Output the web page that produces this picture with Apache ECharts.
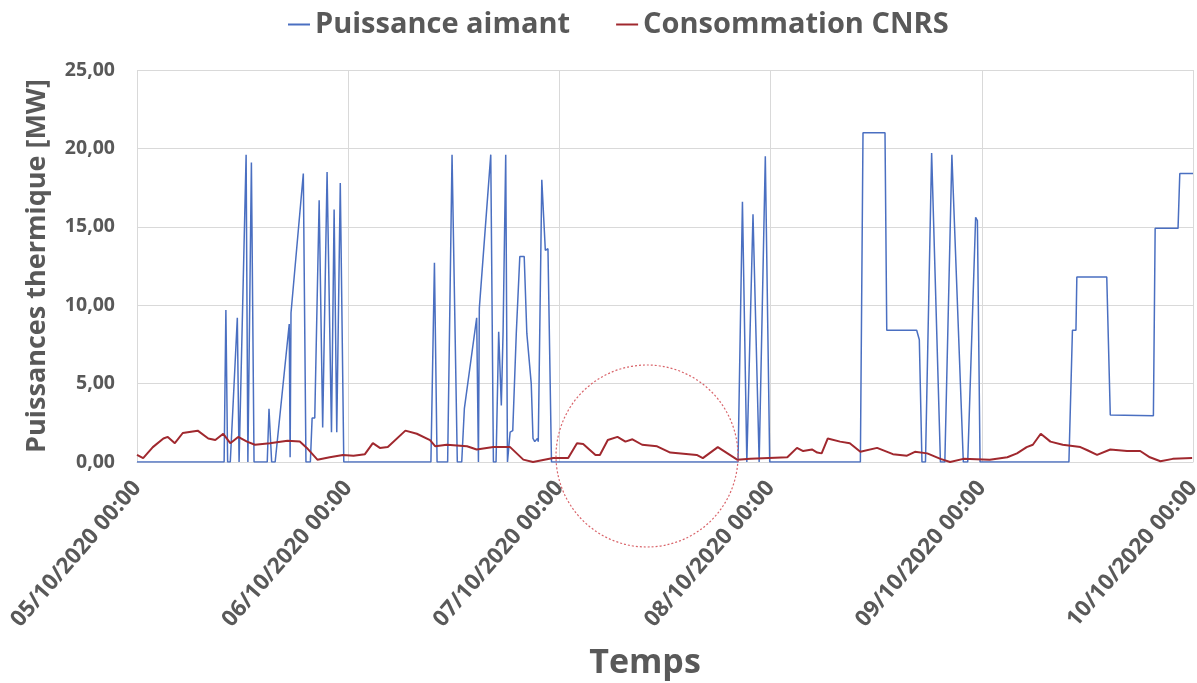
<!DOCTYPE html>
<html>
<head>
<meta charset="utf-8">
<script src="https://cdn.jsdelivr.net/npm/echarts@6/dist/echarts.min.js"></script>
<style>
  html, body { margin: 0; padding: 0; background: #fff; }
  #chart { width: 1197px; height: 683px; }
</style>
</head>
<body>
<div id="chart"></div>
<script>
// heures depuis le 05/10/2020 00:00
const dayLabels = ['05/10/2020 00:00', '06/10/2020 00:00', '07/10/2020 00:00',
    '08/10/2020 00:00', '09/10/2020 00:00', '10/10/2020 00:00'];

const aimantHours = [0, 9.9, 10.1, 10.3, 10.6, 11.4, 11.6, 12.4, 12.6, 13.0, 13.3,
    14.8, 15.0, 15.3, 15.7, 17.3, 17.4, 17.5, 18.9, 19.2, 19.7, 19.9, 20.2, 20.7,
    21.1, 21.6, 22.1, 22.4, 22.7, 23.1, 23.5,
    33.4, 33.8, 34.1, 35.3, 35.8, 35.9, 36.4, 36.9, 37.2, 38.6, 38.8, 38.9, 40.2,
    40.5, 40.8, 41.1, 41.4, 41.6, 41.9, 42.1, 42.4, 42.7, 43.1, 43.5, 44.0, 44.3,
    44.8, 45.0, 45.2, 45.5, 45.6, 46.0, 46.4, 46.7, 47.1,
    68.3, 68.8, 69.3, 70.0, 70.1, 70.7, 71.4, 71.9,
    82.2, 82.5, 85.0, 85.2, 88.6, 88.9, 89.2, 89.6, 90.3, 91.3, 91.8, 92.6, 93.9,
    94.4, 95.3, 95.5, 95.8,
    105.9, 106.3, 106.7, 106.8, 110.2, 110.6, 115.5, 115.7, 118.3, 118.5, 120];
const aimantValues = [0, 0, 9.7, 0, 0, 9.2, 0, 19.6, 0, 19.1, 0,
    0, 3.4, 0, 0, 8.8, 0.3, 9.5, 18.4, 0, 0, 2.8, 2.8, 16.7,
    2.2, 18.5, 1.9, 16.1, 1.9, 17.8, 0,
    0, 12.7, 0, 0, 19.6, 19.5, 0, 0, 3.4, 9.2, 0, 9.8, 19.6,
    0, 0, 8.3, 3.6, 8.3, 19.6, 0, 1.9, 2.0, 8.2, 13.1, 13.1, 8.2,
    5.0, 1.5, 1.3, 1.5, 1.3, 18.0, 13.5, 13.6, 0,
    0, 16.6, 0, 15.8, 15.7, 0, 19.5, 0,
    0, 21.0, 21.0, 8.4, 8.4, 7.8, 0, 0, 19.7, 0, 0, 19.6, 0,
    0, 15.6, 15.4, 0,
    0, 8.4, 8.4, 11.8, 11.8, 3.0, 2.95, 14.9, 14.9, 18.4, 18.4];

const cnrsHours = [0, 0.7, 1.8, 3.0, 3.5, 4.3, 5.2, 6.9, 8.1, 8.9, 9.8, 10.6, 11.5,
    12.5, 13.4, 15.1, 17.1, 18.5, 19.3, 20.5, 21.9, 23.4, 24.6, 25.9, 26.8, 27.6,
    28.5, 30.5, 31.8, 33.3, 33.9, 35.2, 37.5, 38.6, 40.5, 42.4, 43.9, 45.0, 47.3,
    49.0, 50.0, 50.7, 52.1, 52.6, 53.5, 54.6, 55.5, 56.3, 57.4, 59.1, 60.6, 63.6,
    64.3, 66.0, 67.1, 68.2, 69.7, 73.9, 75.0, 75.7, 76.7, 77.3, 77.8, 78.5, 79.9,
    81.0, 82.2, 84.1, 85.9, 87.5, 88.4, 89.8, 91.3, 92.4, 93.9, 96.9, 98.9, 100.0,
    101.1, 101.8, 102.7, 103.8, 105.2, 107.2, 108.0, 109.1, 110.6, 112.5, 114.0,
    115.1, 116.3, 117.7, 119.9];
const cnrsValues = [0.45, 0.25, 0.95, 1.5, 1.6, 1.2, 1.85, 2.0, 1.5, 1.4, 1.8, 1.2, 1.6,
    1.3, 1.1, 1.2, 1.35, 1.3, 0.9, 0.15, 0.3, 0.45, 0.4, 0.5, 1.2, 0.9,
    0.95, 2.0, 1.8, 1.4, 1.0, 1.1, 1.0, 0.8, 0.95, 0.95, 0.15, 0.0, 0.25,
    0.25, 1.2, 1.15, 0.45, 0.45, 1.4, 1.6, 1.3, 1.45, 1.1, 1.0, 0.6, 0.45,
    0.25, 0.95, 0.55, 0.15, 0.2, 0.3, 0.9, 0.7, 0.8, 0.6, 0.55, 1.5, 1.3,
    1.2, 0.65, 0.9, 0.5, 0.4, 0.65, 0.55, 0.2, 0.0, 0.2, 0.15, 0.3, 0.55,
    0.95, 1.1, 1.8, 1.3, 1.1, 0.95, 0.75, 0.45, 0.8, 0.7, 0.7,
    0.3, 0.05, 0.2, 0.25];

const chart = echarts.init(document.getElementById('chart'));
const textGrey = '#595959';
const font = '"Open Sans", sans-serif';

const option = {
    backgroundColor: '#ffffff',
    animation: false,
    textStyle: { fontFamily: font },
    legend: {
        top: 5,
        left: 283,
        itemGap: 46,
        itemWidth: 22,
        itemHeight: 2,
        icon: 'rect',
        textStyle: { fontSize: 29, fontWeight: 'bold', color: textGrey, fontFamily: font },
        data: ['Puissance aimant', 'Consommation CNRS']
    },
    grid: { left: 137, right: 4, top: 70, bottom: 221, outerBoundsMode: 'none' },
    xAxis: {
        type: 'value',
        min: 0,
        max: 120,
        interval: 24,
        name: 'Temps',
        nameLocation: 'middle',
        nameGap: 184,
        nameTextStyle: {
            fontSize: 34, fontWeight: 'bold', color: textGrey, fontFamily: font,
            padding: [0, 40, 0, 0]
        },
        axisLine: { show: true, lineStyle: { color: '#d9d9d9' } },
        axisTick: { show: false },
        splitLine: { show: true, lineStyle: { color: '#d9d9d9' } },
        axisLabel: {
            rotate: 49,
            margin: 22,
            fontSize: 22.5,
            fontWeight: 'bold',
            color: textGrey,
            fontFamily: font,
            formatter: v => dayLabels[Math.round(v / 24)]
        }
    },
    yAxis: {
        type: 'value',
        min: 0,
        max: 25,
        interval: 5,
        name: 'Puissances thermique [MW]',
        nameLocation: 'middle',
        nameGap: 86,
        nameTextStyle: { fontSize: 27, fontWeight: 'bold', color: textGrey, fontFamily: font },
        axisLine: { show: false },
        axisTick: { show: false },
        splitLine: { lineStyle: { color: '#d9d9d9' } },
        axisLabel: {
            margin: 22,
            fontSize: 19.5,
            fontWeight: 'bold',
            color: textGrey,
            fontFamily: font,
            formatter: v => v.toFixed(2).replace('.', ',')
        }
    },
    series: [{
        name: 'Puissance aimant',
        type: 'line',
        showSymbol: false,
        color: '#4a6fc1',
        lineStyle: { width: 1.5, color: '#4a6fc1' },
        data: aimantHours.map((h, i) => [h, aimantValues[i]])
    }, {
        name: 'Consommation CNRS',
        type: 'line',
        showSymbol: false,
        color: '#a0282e',
        lineStyle: { width: 2, color: '#a0282e' },
        data: cnrsHours.map((h, i) => [h, cnrsValues[i]])
    }],
    graphic: [{
        type: 'circle',
        shape: { cx: 647, cy: 456, r: 91 },
        style: { fill: 'none', stroke: '#d9646a', lineWidth: 1.2, lineDash: [2, 2] },
        z: 100
    }]
};

chart.setOption(option);
</script>
</body>
</html>
